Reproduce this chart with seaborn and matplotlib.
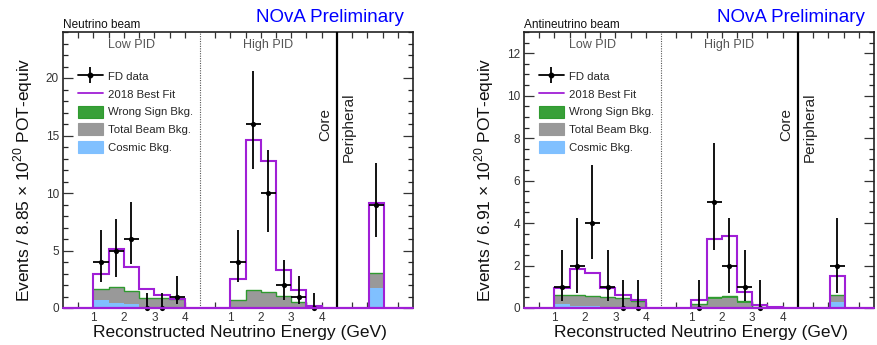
import numpy as np
import pandas as pd
import matplotlib
matplotlib.use("Agg")
import matplotlib.pyplot as plt
import seaborn as sns
from matplotlib.patches import Patch
from matplotlib.lines import Line2D
from matplotlib.legend_handler import HandlerTuple
from matplotlib.ticker import MultipleLocator

sns.set_style("ticks")
plt.rcParams['font.family'] = ['Liberation Sans', 'DejaVu Sans']
plt.rcParams['mathtext.fontset'] = 'custom'
plt.rcParams['mathtext.rm'] = 'Liberation Sans'

# ---------------- data ----------------
energy_edges = [1.0, 1.5, 2.0, 2.5, 3.0, 3.5, 4.0]
energy_ticks = [1, 2, 3, 4]

# Neutrino beam
nu_fit_low = [3.0, 5.17, 3.58, 1.67, 1.13, 0.78]
nu_fit_high = [2.53, 14.65, 12.77, 3.3, 1.57, 0.2]
nu_fit_periph = [9.16]
nu_cosmic_low = [0.72, 0.46, 0.38, 0.12, 0.12, 0.12]
nu_cosmic_high = [0.05, 0.05, 0.05, 0.05, 0.03, 0.02]
nu_cosmic_periph = [1.75]
nu_beam_low = [0.84, 1.30, 1.06, 0.64, 0.64, 0.57]
nu_beam_high = [0.58, 1.40, 1.28, 0.90, 0.42, 0.10]
nu_beam_periph = [1.19]
nu_ws_low = [0.07, 0.08, 0.08, 0.08, 0.08, 0.08]
nu_ws_high = [0.05, 0.10, 0.10, 0.10, 0.05, 0.03]
nu_ws_periph = [0.13]
nu_data_low = [4, 5, 6, 0, 0, 1]
nu_data_low_lo = [2.3, 2.7, 3.8, 0, 0, 0.35]
nu_data_low_hi = [6.75, 7.77, 9.26, 1.3, 1.3, 2.75]
nu_data_high = [4, 16, 10, 2, 1, 0]
nu_data_high_lo = [2.3, 12.1, 6.65, 0.7, 0.35, 0]
nu_data_high_hi = [6.75, 20.6, 13.7, 4.2, 2.75, 1.3]
nu_data_periph = [9]
nu_data_periph_lo = [6.2]
nu_data_periph_hi = [12.6]

# Antineutrino beam
anu_fit_low = [0.92, 1.83, 1.67, 0.96, 0.63, 0.36]
anu_fit_high = [0.4, 3.27, 3.38, 0.76, 0.13, 0.03]
anu_fit_periph = [1.51]
anu_cosmic_low = [0.17, 0.08, 0.08, 0.05, 0.05, 0.04]
anu_cosmic_high = [0.02, 0.02, 0.02, 0.02, 0.01, 0.0]
anu_cosmic_periph = [0.3]
anu_beam_low = [0.38, 0.50, 0.44, 0.43, 0.39, 0.24]
anu_beam_high = [0.15, 0.42, 0.45, 0.22, 0.03, 0.01]
anu_beam_periph = [0.26]
anu_ws_low = [0.05, 0.05, 0.06, 0.06, 0.05, 0.05]
anu_ws_high = [0.03, 0.08, 0.11, 0.08, 0.02, 0.0]
anu_ws_periph = [0.07]
anu_data_low = [1, 2, 4, 1, 0, 0]
anu_data_low_lo = [0.35, 0.7, 2.3, 0.35, 0, 0]
anu_data_low_hi = [2.75, 4.25, 6.75, 2.75, 1.3, 1.3]
anu_data_high = [0, 5, 2, 1, 0, np.nan]
anu_data_high_lo = [0, 2.75, 0.7, 0.35, 0, np.nan]
anu_data_high_hi = [1.3, 7.78, 4.25, 2.75, 1.3, np.nan]
anu_data_periph = [2]
anu_data_periph_lo = [0.7]
anu_data_periph_hi = [4.25]

# ---------------- style / layout ----------------
PURPLE = '#a01fd6'
GREEN = '#38a038'
GREEN_EDGE = '#2f9a2f'
GRAY = '#999999'
BLUE = '#80c0ff'
HIGH_OFFSET = 4.5
PERIPH_EDGES = [10.05, 10.55]
XMAX = 11.5

W, H = 877, 345
fig = plt.figure(figsize=(W / 100, H / 100), dpi=100)


def draw_panel(ax, fit, cosmic, beam, ws, data, ylim, ymaj, ymin, beam_label, ylab, xshift):
    low_e = np.array(energy_edges)
    high_e = low_e + HIGH_OFFSET
    regions = [(low_e, 0), (high_e, 1), (np.array(PERIPH_EDGES), 2)]
    for edges, r in regions:
        c = np.array(cosmic[r], float)
        b = np.array(beam[r], float)
        w = np.array(ws[r], float)
        ax.stairs(c, edges, baseline=0, fill=True, color=BLUE, lw=0, zorder=2)
        ax.stairs(c + b, edges, baseline=c, fill=True, color=GRAY, lw=0, zorder=2)
        ax.stairs(c + b + w, edges, baseline=c + b, fill=True, color=GREEN, lw=0, zorder=2)
        ax.stairs(c + b + w, edges, baseline=None, color=GREEN_EDGE, lw=1.0, zorder=2.5)
        ax.stairs(np.array(fit[r], float), edges, baseline=0, color=PURPLE, lw=1.5, zorder=3)

    # data points (seaborn markers + error bars)
    rows = []
    for edges, r in regions:
        centers = 0.5 * (edges[:-1] + edges[1:])
        vals, lo, hi = data[r]
        for xc, v, l, h in zip(centers, vals, lo, hi):
            if not np.isnan(v):
                rows.append((xc, v, l, h))
    df = pd.DataFrame(rows, columns=['x', 'y', 'lo', 'hi'])
    ax.errorbar(df['x'], df['y'], yerr=[df['y'] - df['lo'], df['hi'] - df['y']],
                xerr=0.25, fmt='none', ecolor='black', elinewidth=1.3, capsize=0, zorder=5,
                clip_on=False)
    sns.scatterplot(data=df, x='x', y='y', ax=ax, color='black', s=14, marker='o',
                    edgecolor='black', linewidth=0, zorder=6, legend=False, clip_on=False)

    # baseline of the fit histogram
    ax.axhline(0, color=PURPLE, lw=1.6, zorder=7, clip_on=False)
    # separators
    ax.axvline(HIGH_OFFSET, color='#555555', lw=0.8, ls=(0, (1, 1.2)), zorder=1)
    ax.axvline(9.0, color='black', lw=1.6, zorder=4)

    ax.set_xlim(0, XMAX)
    ax.set_ylim(*ylim)
    xt = list(np.arange(0.5, 4.01, 0.5)) + list(np.arange(5.0, 8.51, 0.5)) + [9.5, 10.0, 10.5, 11.0]
    labels = []
    for t in xt:
        lab = ''
        for e in energy_ticks:
            if abs(t - e) < 1e-6:
                lab = str(e)
            elif abs(t - (e + HIGH_OFFSET)) < 1e-6:
                lab = str(e)
        labels.append(lab)
    ax.set_xticks(xt)
    ax.set_xticklabels(labels)
    ax.yaxis.set_major_locator(MultipleLocator(ymaj))
    ax.yaxis.set_minor_locator(MultipleLocator(ymin))
    ax.tick_params(axis='x', which='major', direction='in', length=4, width=0.9, top=True,
                   bottom=True, labelsize=8.5, pad=3, colors='#333333')
    ax.tick_params(axis='y', which='major', direction='in', length=7.5, width=0.9, right=True,
                   left=True, labelsize=8.5, pad=3, colors='#333333')
    ax.tick_params(axis='y', which='minor', direction='in', length=3.8, width=0.9, right=True,
                   left=True)
    for s in ax.spines.values():
        s.set_linewidth(1.2)
        s.set_color('#222222')
    ax.set_xlabel('')
    ax.set_ylabel('')

    # region labels
    ax.text(2.25, 0.953, 'Low PID', transform=ax.get_xaxis_transform(), ha='center',
            va='center', fontsize=9, color='#555555')
    ax.text(6.75, 0.953, 'High PID', transform=ax.get_xaxis_transform(), ha='center',
            va='center', fontsize=9, color='#555555')
    ax.text(8.63, 0.725, 'Core', transform=ax.get_xaxis_transform(), ha='center',
            va='top', rotation=90, fontsize=11, color='#222222')
    ax.text(9.4, 0.78, 'Peripheral', transform=ax.get_xaxis_transform(), ha='center',
            va='top', rotation=90, fontsize=11, color='#222222')

    # legend
    handles = [
        (Line2D([], [], color='black', lw=1.3, marker='o', ms=3.2),
         Line2D([], [], color='black', ls='none', marker='|', ms=12, mew=1.3)),
        Line2D([], [], color=PURPLE, lw=1.3),
        Patch(facecolor=GREEN, edgecolor=GREEN_EDGE, lw=0.8),
        Patch(facecolor=GRAY, edgecolor=GRAY, lw=0.8),
        Patch(facecolor=BLUE, edgecolor=BLUE, lw=0.8),
    ]
    labs = ['FD data', '2018 Best Fit', 'Wrong Sign Bkg.', 'Total Beam Bkg.', 'Cosmic Bkg.']
    ax.legend(handles, labs, loc='upper left', bbox_to_anchor=(0.043, 0.862), frameon=False,
              fontsize=8.2, handlelength=2.15, handleheight=1.25, handletextpad=0.45,
              labelspacing=0.5, borderpad=0, borderaxespad=0, numpoints=1,
              handler_map={tuple: HandlerTuple(ndivide=1)})

    # texts outside
    fig.text((63 + xshift) / W, (H - 28) / H, beam_label, fontsize=8.5, ha='left',
             va='baseline', color='#111111')
    fig.text((404 + xshift) / W, (H - 22) / H, 'NOvA Preliminary', fontsize=13.5, ha='right',
             va='baseline', color='#0000ff')
    fig.text((23 + xshift) / W, (H - 180) / H, ylab, rotation=90, fontsize=12.5, ha='center',
             va='center', color='#111111')
    fig.text((240 + xshift) / W, (H - 332) / H, 'Reconstructed Neutrino Energy (GeV)',
             fontsize=12.5, ha='center', va='center', color='#111111')


axL = fig.add_axes([63 / W, 37 / H, 350 / W, 276 / H])
axR = fig.add_axes([524 / W, 37 / H, 350 / W, 276 / H])

draw_panel(axL,
           [nu_fit_low, nu_fit_high, nu_fit_periph],
           [nu_cosmic_low, nu_cosmic_high, nu_cosmic_periph],
           [nu_beam_low, nu_beam_high, nu_beam_periph],
           [nu_ws_low, nu_ws_high, nu_ws_periph],
           [(nu_data_low, nu_data_low_lo, nu_data_low_hi),
            (nu_data_high, nu_data_high_lo, nu_data_high_hi),
            (nu_data_periph, nu_data_periph_lo, nu_data_periph_hi)],
           (0, 24), 5, 1, 'Neutrino beam',
           r'Events / 8.85 $\times$ 10$^{20}$ POT-equiv', 0)

draw_panel(axR,
           [anu_fit_low, anu_fit_high, anu_fit_periph],
           [anu_cosmic_low, anu_cosmic_high, anu_cosmic_periph],
           [anu_beam_low, anu_beam_high, anu_beam_periph],
           [anu_ws_low, anu_ws_high, anu_ws_periph],
           [(anu_data_low, anu_data_low_lo, anu_data_low_hi),
            (anu_data_high, anu_data_high_lo, anu_data_high_hi),
            (anu_data_periph, anu_data_periph_lo, anu_data_periph_hi)],
           (0, 13), 2, 0.5, 'Antineutrino beam',
           r'Events / 6.91 $\times$ 10$^{20}$ POT-equiv', 461)

fig.savefig('out.png', dpi=100)
